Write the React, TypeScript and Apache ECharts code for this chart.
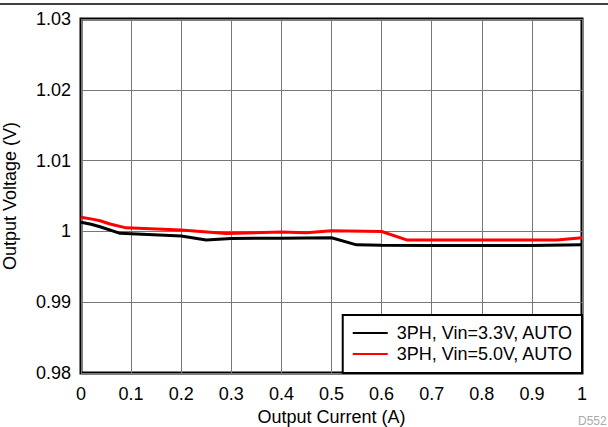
import React, { useEffect, useRef } from "react";
import * as echarts from "echarts";

const xTicks = [0, 0.1, 0.2, 0.3, 0.4, 0.5, 0.6, 0.7, 0.8, 0.9, 1];
const seriesNames = ["3PH, Vin=3.3V, AUTO", "3PH, Vin=5.0V, AUTO"];
const blackX = [0, 0.02, 0.038, 0.078, 0.2, 0.25, 0.3, 0.4, 0.5, 0.55, 0.6, 0.7, 0.8, 0.9, 1.0];
const blackY = [1.0013, 1.001, 1.00066, 0.99973, 0.99935, 0.9988, 0.999, 0.99905, 0.9991, 0.9981, 0.99805, 0.998, 0.998, 0.998, 0.9981];
const redX = [0, 0.025, 0.038, 0.058, 0.09, 0.2, 0.29, 0.4, 0.45, 0.5, 0.6, 0.65, 0.7, 0.8, 0.95, 1.0];
const redY = [1.002, 1.0017, 1.0015, 1.00105, 1.0005, 1.0002, 0.9997, 0.9999, 0.9998, 1.0001, 0.99998, 0.9988, 0.9988, 0.9988, 0.9988, 0.9991];

const font = "'Liberation Sans', Arial, sans-serif";
const fmt = (v: number) => String(parseFloat(v.toFixed(2)));

export default function App() {
  const ref = useRef<HTMLDivElement>(null);
  useEffect(() => {
    const chart = echarts.init(ref.current!, null, { renderer: "svg" });
    chart.setOption({
      animation: false,
      textStyle: { fontFamily: font },
      grid: {
        left: 81, right: 26, top: 19, bottom: 54,
        outerBoundsMode: "none",
        containLabel: false,
        show: true, borderColor: "#000", borderWidth: 3, backgroundColor: "#fff",
      },
      legend: {
        orient: "vertical",
        right: 26, bottom: 54,
        backgroundColor: "#fff",
        borderColor: "#000",
        borderWidth: 2,
        borderRadius: 0,
        padding: [9, 9, 10, 10],
        itemGap: 3,
        itemWidth: 35,
        itemHeight: 14,
        textStyle: { fontSize: 18, color: "#000", fontFamily: font, padding: [0, 0, 0, 4] },
        data: seriesNames.map((n, i) => ({ name: n, itemStyle: { color: i === 0 ? "#000" : "#ff0000" }, icon: "path://M0,6H35V8H0Z" })),
      },
      xAxis: {
        type: "value",
        min: 0, max: 1, interval: 0.1,
        name: "Output Current (A)",
        nameLocation: "middle",
        nameGap: 33,
        nameTextStyle: { fontSize: 18, color: "#000", fontFamily: font },
        axisLine: { show: false },
        axisTick: { show: false },
        axisLabel: { fontSize: 18, color: "#000", margin: 12, formatter: (v: number) => fmt(v) },
        splitLine: { show: true, lineStyle: { color: "#777", width: 1 } },
      },
      yAxis: {
        type: "value",
        min: 0.98, max: 1.03, interval: 0.01,
        name: "Output Voltage (V)",
        nameLocation: "middle",
        nameGap: 62,
        nameTextStyle: { fontSize: 18, color: "#000", fontFamily: font },
        axisLine: { show: false },
        axisTick: { show: false },
        axisLabel: { fontSize: 18, color: "#000", margin: 10, formatter: (v: number) => fmt(v) },
        splitLine: { show: true, lineStyle: { color: "#777", width: 1 } },
      },
      series: [
        {
          name: seriesNames[0], type: "line", showSymbol: false, symbol: "none",
          lineStyle: { color: "#000", width: 3 }, itemStyle: { color: "#000" },
          data: blackX.map((x, i) => [x, blackY[i]]),
        },
        {
          name: seriesNames[1], type: "line", showSymbol: false, symbol: "none",
          lineStyle: { color: "#ff0000", width: 3 }, itemStyle: { color: "#ff0000" },
          data: redX.map((x, i) => [x, redY[i]]),
        },
      ],
      graphic: [
        { type: "line", shape: { x1: 0, y1: 4, x2: 608, y2: 4 }, style: { stroke: "#000", lineWidth: 1.5 } },
        { type: "text", x: 578, y: 415, style: { text: "D552", fontSize: 12, fill: "#aaa", fontFamily: font } },
      ],
    });
    return () => chart.dispose();
  }, []);
  return <div ref={ref} style={{ position: "absolute", left: 0, top: 0, width: 608, height: 427, background: "#fff" }} />;
}
